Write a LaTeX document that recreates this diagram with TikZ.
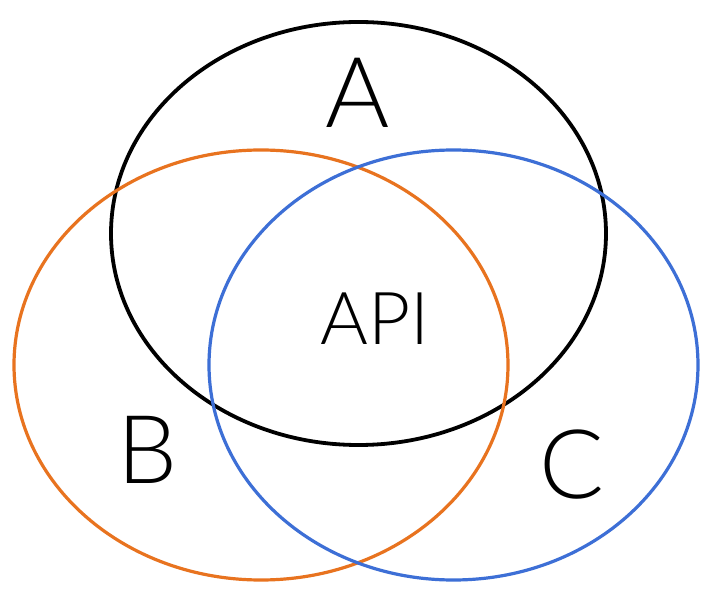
\documentclass[tikz,border=0pt]{standalone}
\usepackage{fontspec}
\setmainfont{Lato}[UprightFont={* Light}]
\definecolor{vorange}{HTML}{E8731F}
\definecolor{vblue}{HTML}{3D6FD6}
\begin{document}
\begin{tikzpicture}[x=1pt,y=-1pt,
  ring/.style={line width=3.2pt},
  lbl/.style={inner sep=0pt,anchor=base}]
\fill[white] (0,0) rectangle (716,604);
\useasboundingbox (0,0) rectangle (716,604);
\draw[ring,black,line width=3.8pt] (358.5,233.5) ellipse [x radius=247.5, y radius=211.5];
\draw[ring,vorange] (261,365) ellipse [x radius=247, y radius=215];
\draw[ring,vblue] (453.5,365) ellipse [x radius=244.5, y radius=215];
\node[lbl,font=\fontsize{98}{98}\selectfont] (a) at (358,128) {A};
\node[lbl,font=\fontsize{73}{73}\selectfont] (api) at (375,345) {API};
\node[lbl,font=\fontsize{95}{95}\selectfont] (b) at (147.5,483) {B};
\node[lbl,font=\fontsize{96}{96}\selectfont] (c) at (572,499) {C};
\end{tikzpicture}
\end{document}
